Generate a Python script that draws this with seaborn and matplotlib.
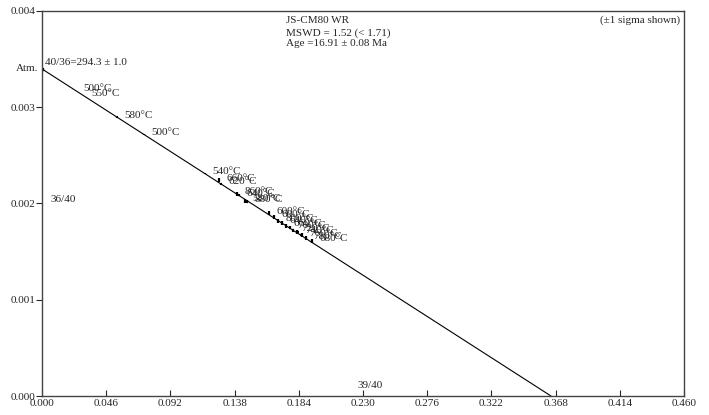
import numpy as np
import pandas as pd
import matplotlib
matplotlib.use("Agg")
import matplotlib.pyplot as plt
import seaborn as sns

# step heating data (39/40 vs 36/40)
temps = ["500°C", "550°C", "580°C", "500°C", "540°C", "660°C", "620°C", "860°C",
         "640°C", "580°C", "880°C", "600°C", "600°C", "800°C", "640°C", "660°C",
         "700°C", "720°C", "740°C", "760°C", "780°C", "680°C"]
ar39_40 = [0.0244, 0.0301, 0.0538, 0.0731, 0.1168, 0.1268, 0.1283, 0.1397,
           0.1411, 0.1455, 0.1469, 0.1626, 0.1660, 0.1690, 0.1720, 0.1750,
           0.1775, 0.1800, 0.1830, 0.1860, 0.1890, 0.1934]
ar36_40 = [0.003171, 0.003118, 0.002897, 0.002717, 0.002311, 0.00224, 0.002204,
           0.002098, 0.002085, 0.00203, 0.00202, 0.0019, 0.00186, 0.00182,
           0.0018, 0.00177, 0.00175, 0.00172, 0.0017, 0.00167, 0.00164, 0.00161]
# 1 sigma errors (x, y)
err_x = [0.0001, 0.0001, 0.0004, 0.0001, 0.0001, 0.0008, 0.0004, 0.0008,
         0.0004, 0.0008, 0.0006, 0.0008, 0.0008, 0.0008, 0.0008, 0.0008,
         0.0008, 0.0008, 0.0008, 0.0008, 0.0008, 0.0010]
err_y = [0.000002, 0.000002, 0.000006, 0.000002, 0.000002, 0.00002, 0.000008,
         0.00002, 0.00001, 0.00002, 0.000015, 0.00002, 0.00002, 0.00002,
         0.00002, 0.00002, 0.00002, 0.00002, 0.00002, 0.00002, 0.00002, 0.00002]

# isochron: intercepts
iso_x = [0.0, 0.3647]
iso_y = [1 / 294.3, 0.0]

xticks = [0.000, 0.046, 0.092, 0.138, 0.184, 0.230, 0.276, 0.322, 0.368, 0.414, 0.460]
yticks = [0.000, 0.001, 0.002, 0.003, 0.004]

df = pd.DataFrame({"x": ar39_40, "y": ar36_40, "ex": err_x, "ey": err_y, "label": temps})

sns.set_style("ticks")
plt.rcParams["font.family"] = ["Liberation Serif", "DejaVu Serif"]

fig = plt.figure(figsize=(7.09, 4.15), dpi=100)
ax = fig.add_axes([42 / 709, 19 / 415, 642 / 709, 385 / 415])

sns.lineplot(x=iso_x, y=iso_y, ax=ax, color="black", linewidth=0.8)
ax.errorbar(df["x"], df["y"], xerr=df["ex"], yerr=df["ey"], fmt="none",
            ecolor="black", elinewidth=1.6)
ax.plot([0], [iso_y[0]], marker="s", ms=2, color="black")

for _, r in df.iterrows():
    ax.annotate(r["label"], (r["x"], r["y"]), xytext=(5.5, 1.5),
                textcoords="offset points", fontsize=8, va="center", ha="left")

ax.set_xlim(0, 0.46)
ax.set_ylim(0, 0.004)
ax.set_xticks(xticks)
ax.set_yticks(yticks)
ax.set_xticklabels([f"{v:.3f}" for v in xticks], fontsize=8)
ax.set_yticklabels([f"{v:.3f}" for v in yticks], fontsize=8)
ax.tick_params(axis="x", direction="in", length=4, pad=2, width=0.8)
ax.tick_params(axis="y", direction="out", length=4, pad=1, width=0.8)
ax.set_xlabel("")
ax.set_ylabel("")
for s in ax.spines.values():
    s.set_visible(True)
    s.set_linewidth(1.0)
    s.set_color("#444444")

ax.text(-0.003, iso_y[0], "Atm.", ha="right", va="center", fontsize=8)
ax.text(0.002, iso_y[0] + 0.00007, "40/36=294.3 ± 1.0", ha="left", va="center", fontsize=8)
ax.text(0.006, 0.00204, "36/40", ha="left", va="center", fontsize=8)
ax.text(0.235, 0.00011, "39/40", ha="center", va="center", fontsize=8)
ax.text(0.1745, 0.00390, "JS-CM80 WR", ha="left", va="center", fontsize=8)
ax.text(0.1745, 0.00377, "MSWD = 1.52 (< 1.71)", ha="left", va="center", fontsize=8)
ax.text(0.1745, 0.00366, "Age =16.91 ± 0.08 Ma", ha="left", va="center", fontsize=8)
ax.text(0.4575, 0.00390, "(±1 sigma shown)", ha="right", va="center", fontsize=8)

plt.savefig("out.png", dpi=100)
